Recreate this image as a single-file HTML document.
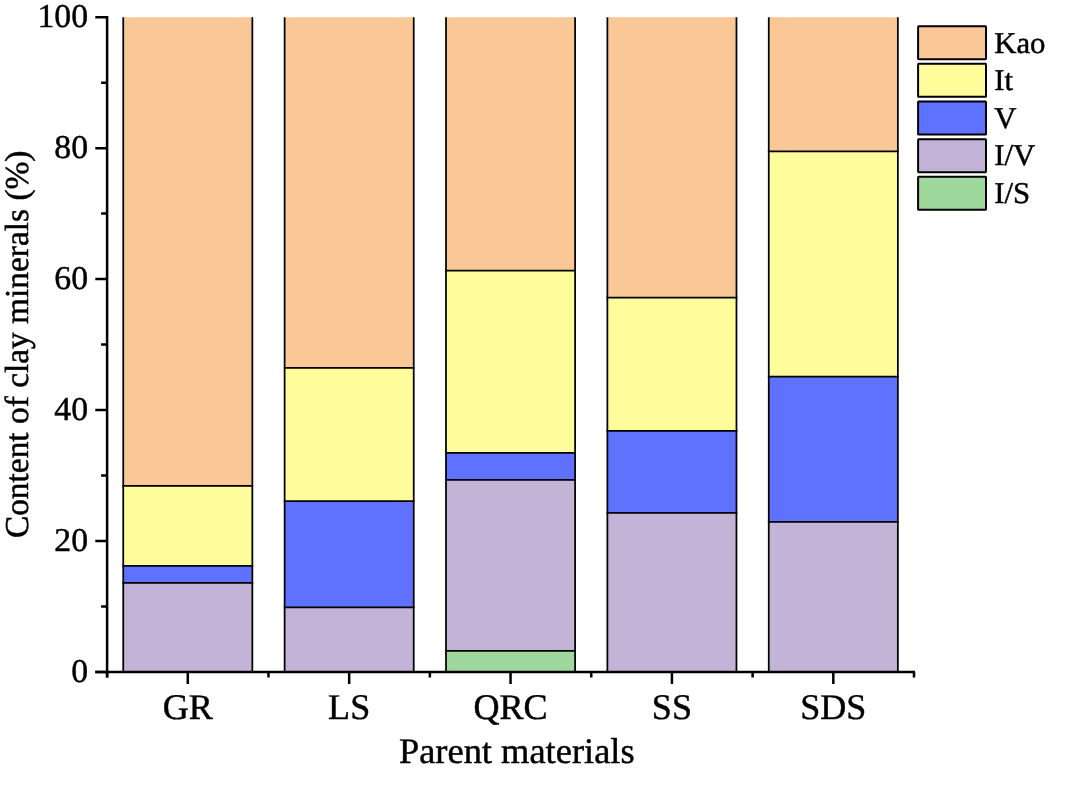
<!DOCTYPE html><html><head><meta charset="utf-8"><style>html,body{margin:0;padding:0;background:#fff;}svg{display:block;filter:grayscale(0)}text{font-family:"Liberation Serif",serif;fill:#000;stroke:#000;stroke-width:0.45px;text-rendering:geometricPrecision}</style></head><body>
<svg width="1065" height="799" viewBox="0 0 1065 799">
<rect width="1065" height="799" fill="#fff"/>
<rect x="123.24" y="582.90" width="129.10" height="89.00" fill="#C2B3D7"/>
<rect x="123.24" y="565.90" width="129.10" height="17.00" fill="#5F72FF"/>
<rect x="123.24" y="485.75" width="129.10" height="80.15" fill="#FFFC9B"/>
<rect x="123.24" y="17.20" width="129.10" height="468.55" fill="#FAC797"/>
<path d="M123.24 17.20V671.90M252.34 17.20V671.90" stroke="#000" stroke-width="1.75" fill="none"/>
<path d="M122.36 582.90H253.22M122.36 565.90H253.22M122.36 485.75H253.22" stroke="#000" stroke-width="1.75" fill="none"/>
<rect x="284.62" y="607.40" width="129.10" height="64.50" fill="#C2B3D7"/>
<rect x="284.62" y="501.20" width="129.10" height="106.20" fill="#5F72FF"/>
<rect x="284.62" y="367.90" width="129.10" height="133.30" fill="#FFFC9B"/>
<rect x="284.62" y="17.20" width="129.10" height="350.70" fill="#FAC797"/>
<path d="M284.62 17.20V671.90M413.72 17.20V671.90" stroke="#000" stroke-width="1.75" fill="none"/>
<path d="M283.74 607.40H414.60M283.74 501.20H414.60M283.74 367.90H414.60" stroke="#000" stroke-width="1.75" fill="none"/>
<rect x="446.00" y="650.90" width="129.10" height="21.00" fill="#9ED89C"/>
<rect x="446.00" y="479.75" width="129.10" height="171.15" fill="#C2B3D7"/>
<rect x="446.00" y="452.95" width="129.10" height="26.80" fill="#5F72FF"/>
<rect x="446.00" y="270.60" width="129.10" height="182.35" fill="#FFFC9B"/>
<rect x="446.00" y="17.20" width="129.10" height="253.40" fill="#FAC797"/>
<path d="M446.00 17.20V671.90M575.10 17.20V671.90" stroke="#000" stroke-width="1.75" fill="none"/>
<path d="M445.12 650.90H575.98M445.12 479.75H575.98M445.12 452.95H575.98M445.12 270.60H575.98" stroke="#000" stroke-width="1.75" fill="none"/>
<rect x="607.38" y="512.90" width="129.10" height="159.00" fill="#C2B3D7"/>
<rect x="607.38" y="430.90" width="129.10" height="82.00" fill="#5F72FF"/>
<rect x="607.38" y="297.60" width="129.10" height="133.30" fill="#FFFC9B"/>
<rect x="607.38" y="17.20" width="129.10" height="280.40" fill="#FAC797"/>
<path d="M607.38 17.20V671.90M736.48 17.20V671.90" stroke="#000" stroke-width="1.75" fill="none"/>
<path d="M606.50 512.90H737.36M606.50 430.90H737.36M606.50 297.60H737.36" stroke="#000" stroke-width="1.75" fill="none"/>
<rect x="768.76" y="521.80" width="129.10" height="150.10" fill="#C2B3D7"/>
<rect x="768.76" y="376.50" width="129.10" height="145.30" fill="#5F72FF"/>
<rect x="768.76" y="151.40" width="129.10" height="225.10" fill="#FFFC9B"/>
<rect x="768.76" y="17.20" width="129.10" height="134.20" fill="#FAC797"/>
<path d="M768.76 17.20V671.90M897.86 17.20V671.90" stroke="#000" stroke-width="1.75" fill="none"/>
<path d="M767.88 521.80H898.74M767.88 376.50H898.74M767.88 151.40H898.74" stroke="#000" stroke-width="1.75" fill="none"/>
<path d="M107.1 16.00V677.50" stroke="#000" stroke-width="2.5" fill="none"/>
<path d="M95.3 671.9H915" stroke="#000" stroke-width="2.5" fill="none"/>
<path d="M95.3 671.90H107.1M101.1 606.43H107.1M95.3 540.96H107.1M101.1 475.49H107.1M95.3 410.02H107.1M101.1 344.55H107.1M95.3 279.08H107.1M101.1 213.61H107.1M95.3 148.14H107.1M101.1 82.67H107.1M95.3 17.20H107.1M107.10 671.9V677.6M268.48 671.9V677.6M429.86 671.9V677.6M591.24 671.9V677.6M752.62 671.9V677.6M914.00 671.9V677.6M187.79 671.9V683.9M349.17 671.9V683.9M510.55 671.9V683.9M671.93 671.9V683.9M833.31 671.9V683.9" stroke="#000" stroke-width="2.5" fill="none"/>
<text transform="translate(88.1 681.80) scale(1.015 1)" font-size="33.3" text-anchor="end">0</text>
<text transform="translate(88.1 550.86) scale(1.015 1)" font-size="33.3" text-anchor="end">20</text>
<text transform="translate(88.1 419.92) scale(1.015 1)" font-size="33.3" text-anchor="end">40</text>
<text transform="translate(88.1 288.98) scale(1.015 1)" font-size="33.3" text-anchor="end">60</text>
<text transform="translate(88.1 158.04) scale(1.015 1)" font-size="33.3" text-anchor="end">80</text>
<text transform="translate(88.1 27.10) scale(1.015 1)" font-size="33.3" text-anchor="end">100</text>
<text x="187.79" y="719.4" font-size="36.1" text-anchor="middle">GR</text>
<text x="349.17" y="719.4" font-size="36.1" text-anchor="middle">LS</text>
<text x="510.55" y="719.4" font-size="36.1" text-anchor="middle">QRC</text>
<text x="671.93" y="719.4" font-size="36.1" text-anchor="middle">SS</text>
<text x="833.31" y="719.4" font-size="36.1" text-anchor="middle">SDS</text>
<text transform="translate(398.9 762.9) scale(1.01 1)" font-size="36.1">Parent materials</text>
<text transform="translate(27.8 344.3) rotate(-90)" x="0" y="0" font-size="33.4" text-anchor="middle">Content of clay minerals (%)</text>
<rect x="918.1" y="26.20" width="67.9" height="33.0" fill="#FAC797" stroke="#000" stroke-width="2" rx="0.6"/>
<text transform="translate(994.2 52.50) scale(1.02 1)" font-size="30.2">Kao</text>
<rect x="918.1" y="63.85" width="67.9" height="33.0" fill="#FFFC9B" stroke="#000" stroke-width="2" rx="0.6"/>
<text transform="translate(994.2 90.15) scale(1.02 1)" font-size="30.2">It</text>
<rect x="918.1" y="101.50" width="67.9" height="33.0" fill="#5F72FF" stroke="#000" stroke-width="2" rx="0.6"/>
<text transform="translate(994.2 127.80) scale(1.02 1)" font-size="30.2">V</text>
<rect x="918.1" y="139.15" width="67.9" height="33.0" fill="#C2B3D7" stroke="#000" stroke-width="2" rx="0.6"/>
<text transform="translate(994.2 165.45) scale(1.02 1)" font-size="30.2">I/V</text>
<rect x="918.1" y="176.80" width="67.9" height="33.0" fill="#9ED89C" stroke="#000" stroke-width="2" rx="0.6"/>
<text transform="translate(994.2 203.10) scale(1.02 1)" font-size="30.2">I/S</text>
</svg></body></html>
